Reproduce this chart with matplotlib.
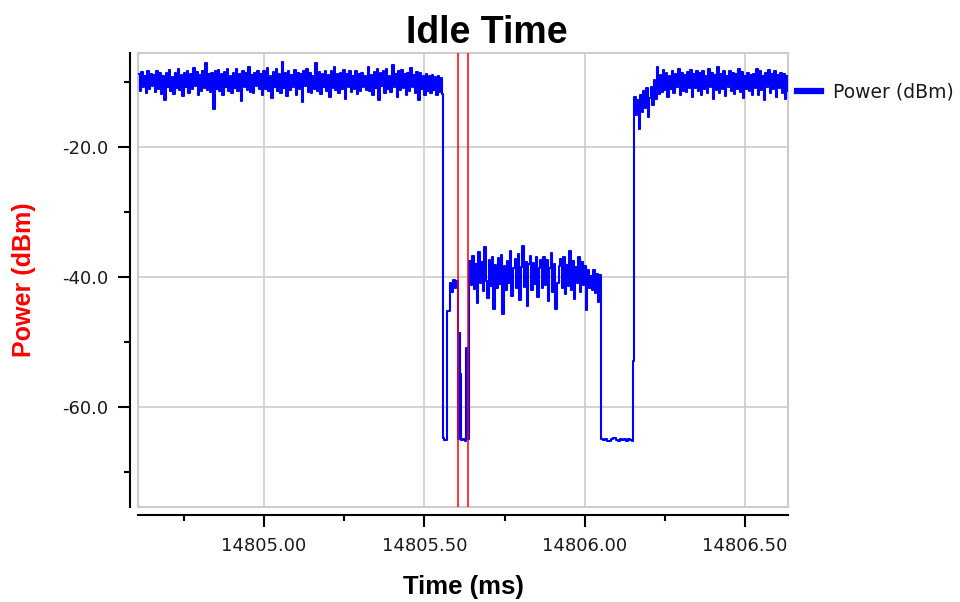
import matplotlib.pyplot as plt
import numpy as np
from matplotlib.lines import Line2D
from matplotlib.patches import Rectangle
from matplotlib.ticker import MultipleLocator, FormatStrFormatter

plt.rcParams['axes.unicode_minus'] = False

# --- datos ---
t_left, t_right = 14804.607, 14806.634

# antes del hueco, potencia alrededor de -10 dBm
idle_before = [
    -8.9, -11.4, -8.5, -10.9, -9.2, -11.8, -8.3, -11.1, -8.8, -10.6, -9.0, -11.6, -8.4, -11.2, -8.6, -11.9, -9.1, -12.8, -8.7, -10.8,
    -8.2, -11.5, -9.3, -11.9, -8.6, -11.0, -8.1, -11.3, -9.0, -12.2, -8.7, -10.9, -8.4, -11.7, -8.9, -11.2, -7.9, -10.7, -8.5, -12.0,
    -9.0, -11.4, -8.3, -11.0, -7.2, -11.3, -8.8, -11.6, -8.6, -14.2, -8.4, -11.1, -8.2, -11.5, -8.9, -12.1, -8.5, -10.8, -8.1, -11.4,
    -9.1, -11.8, -8.7, -11.0, -8.0, -11.5, -8.8, -13.0, -8.3, -10.9, -8.6, -11.3, -7.7, -11.6, -9.0, -11.8, -8.7, -10.7, -8.3, -11.2,
    -8.9, -12.0, -8.4, -11.1, -7.9, -11.4, -9.1, -12.5, -8.5, -10.8, -8.1, -11.5, -8.8, -11.7, -7.0, -11.0, -8.7, -12.2, -8.3, -11.3,
    -9.0, -10.9, -8.2, -12.0, -8.6, -11.2, -8.9, -13.2, -8.4, -10.7, -8.0, -11.6, -8.7, -11.8, -9.1, -11.1, -7.1, -11.4, -8.5, -11.9,
    -8.8, -10.8, -8.3, -11.5, -9.0, -12.3, -8.3, -11.0, -7.8, -11.3, -8.9, -11.7, -8.6, -11.2, -8.2, -12.6, -8.8, -10.9, -8.4, -11.6,
    -9.1, -11.1, -8.3, -11.9, -8.9, -11.4, -8.6, -10.8, -9.2, -11.3, -7.8, -11.5, -9.0, -12.1, -8.5, -11.0, -8.1, -12.9, -8.7, -10.7,
    -8.4, -11.8, -8.0, -11.1, -9.1, -11.6, -7.5, -10.9, -8.8, -12.4, -8.3, -11.3, -8.2, -11.0, -8.9, -12.0, -8.6, -11.4, -7.9, -10.8,
    -9.0, -11.7, -8.5, -12.8, -8.7, -11.2, -9.1, -12.0, -8.9, -11.5, -9.2, -11.8, -9.0, -11.3, -9.3, -12.1, -9.1, -11.6, -9.4, -11.9,
]
idle_before_end = 14805.5565

# transicion: primer hueco y escalon
dip1_t = [14805.5570, 14805.5625, 14805.5695]
dip1_p = [-64.8, -65.1, -45.2]

shoulder_t0, shoulder_t1 = 14805.5788, 14805.6000
shoulder = [-41.0, -42.3, -40.5, -41.8, -40.7]

# segundo hueco entre las marcas rojas
dip2_t = [14805.6045, 14805.6085, 14805.6105, 14805.6120, 14805.6135,
          14805.6200, 14805.6260, 14805.6295, 14805.6320]
dip2_p = [-65.0, -64.7, -48.6, -55.0, -65.1, -64.9, -65.2, -51.0, -65.0]

# rafaga alrededor de -40 dBm
burst_t0, burst_t1 = 14805.6392, 14806.0508
burst = [
    -37.6, -41.3, -36.8, -41.9, -38.0, -44.1, -36.2, -40.9, -37.7, -42.2, -35.5, -40.6, -43.3, -37.5, -41.4, -36.9, -44.9, -38.2, -41.7, -37.1,
    -41.1, -36.7, -45.7, -38.3, -42.0, -37.6, -41.0, -36.0, -42.9, -38.6, -37.3, -41.8, -36.5, -43.5, -38.5, -35.3, -41.5, -37.8, -44.5, -38.1,
    -36.8, -42.0, -37.9, -41.1, -37.0, -43.1, -38.6, -37.5, -41.8, -36.9, -41.3, -37.4, -43.8, -38.7, -36.4, -42.3, -38.0, -45.0, -40.9, -38.4,
    -37.2, -41.7, -36.9, -42.6, -38.2, -41.4, -36.0, -42.0, -37.6, -43.4, -38.5, -40.9, -37.0, -42.3, -37.8, -41.2, -38.3, -45.1, -38.9, -41.8,
    -39.9, -42.1, -38.9, -42.5, -39.6, -43.9, -39.8, -41.5,
]

# tiempo ocioso (idle) en -65 dBm
idle_t0, idle_t1 = 14806.0510, 14806.1480
idle_low = [-64.9, -65.1, -65.0, -65.3, -65.2, -65.0, -64.8, -65.1,
            -65.2, -65.0, -65.1, -64.9, -65.2, -65.0, -65.1, -65.2]

rise_t = [14806.1497]
rise_p = [-53.0]

# despues del hueco
after_t0 = 14806.1547
idle_after = [
    -12.3, -15.2, -12.8, -17.3, -12.1, -14.6, -11.5, -14.0, -11.0, -15.5, -12.5, -10.8, -13.6, -9.8, -12.6, -7.8, -11.9, -9.0, -11.6, -8.2,
    -11.3, -8.7, -12.3, -9.1, -11.1, -8.4, -11.8, -8.9, -10.9, -8.1, -12.1, -8.6, -11.4, -9.0, -11.6, -8.5, -11.0, -8.2, -12.4, -8.9,
    -11.0, -8.4, -11.5, -8.7, -12.0, -8.3, -11.2, -9.2, -11.8, -8.0, -10.8, -8.6, -12.7, -9.0, -11.3, -7.7, -11.7, -8.8, -11.1, -8.4,
    -12.2, -9.1, -10.9, -8.3, -11.4, -8.7, -11.9, -8.9, -11.1, -8.1, -11.6, -8.5, -12.5, -9.2, -11.2, -8.6, -11.5, -9.0, -12.0, -8.8,
    -11.0, -8.0, -12.1, -8.4, -11.3, -9.1, -12.8, -8.7, -10.9, -8.2, -11.7, -8.9, -11.1, -8.3, -12.3, -9.0, -11.0, -8.6, -11.8, -8.8,
    -12.6, -9.2, -11.4,
]

markers = [14805.6055, 14805.6367]

# --- unir los tramos ---
t = np.concatenate([
    np.linspace(t_left, idle_before_end, len(idle_before)),
    dip1_t,
    np.linspace(shoulder_t0, shoulder_t1, len(shoulder)),
    dip2_t,
    np.linspace(burst_t0, burst_t1, len(burst)),
    np.linspace(idle_t0, idle_t1, len(idle_low)),
    rise_t,
    np.linspace(after_t0, t_right, len(idle_after)),
])
p = np.concatenate([idle_before, dip1_p, shoulder, dip2_p, burst,
                    idle_low, rise_p, idle_after])

# --- grafico ---
fig = plt.figure(figsize=(9.6, 6.02), dpi=100)
ax = fig.add_axes([138 / 960, 95 / 602, 650 / 960, 454 / 602])

ax.plot(t, p, color='#0000ff', lw=1.5, drawstyle='steps-post', zorder=3)
for m in markers:
    ax.axvline(m, color='#ff0000', lw=1.1, zorder=4)

ax.set_xlim(t_left, t_right)
ax.set_ylim(-75.4, -5.6)

ax.xaxis.set_major_locator(MultipleLocator(0.5))
ax.xaxis.set_minor_locator(MultipleLocator(0.25))
ax.yaxis.set_major_locator(MultipleLocator(20))
ax.yaxis.set_minor_locator(MultipleLocator(10))
ax.xaxis.set_major_formatter(FormatStrFormatter('%.2f'))
ax.yaxis.set_major_formatter(FormatStrFormatter('%.1f'))

ax.grid(True, which='major', color='#cccccc', lw=1.2, zorder=0)

for s in ['top', 'right']:
    ax.spines[s].set_visible(False)
for s in ['left', 'bottom']:
    ax.spines[s].set_position(('outward', 6))
    ax.spines[s].set_linewidth(1.5)
ax.add_patch(Rectangle((0, 0), 1, 1, transform=ax.transAxes, fill=False,
                       edgecolor='#cccccc', lw=1.5, clip_on=False, zorder=1))

ax.tick_params(which='major', length=8.5, width=1.5, pad=7,
               labelsize=13, labelcolor='#1a1a1a')
ax.tick_params(which='minor', length=4.5, width=1.5)

ax.set_xlabel('Time (ms)', fontsize=18.5, fontweight='bold',
              family='Liberation Sans')
ax.xaxis.set_label_coords(0.5, -0.15)
ax.set_ylabel('Power (dBm)', fontsize=18, fontweight='bold',
              family='Liberation Sans', color='#ff0000')
ax.yaxis.set_label_coords(-0.157, 0.5)

fig.text(487 / 960, 1 - 43 / 602, 'Idle Time', ha='center', va='baseline',
         fontsize=27, fontweight='bold', family='Liberation Sans')

handle = Line2D([], [], color='#0000ff', lw=4.5)
fig.legend([handle], ['Power (dBm)'], loc='center left',
           bbox_to_anchor=(797 / 960, 1 - 92 / 602), frameon=False,
           borderaxespad=0, borderpad=0, handlelength=1.3,
           handletextpad=0.6, fontsize=13.5, labelcolor='#1a1a1a')

fig.savefig('out.png', dpi=100)
